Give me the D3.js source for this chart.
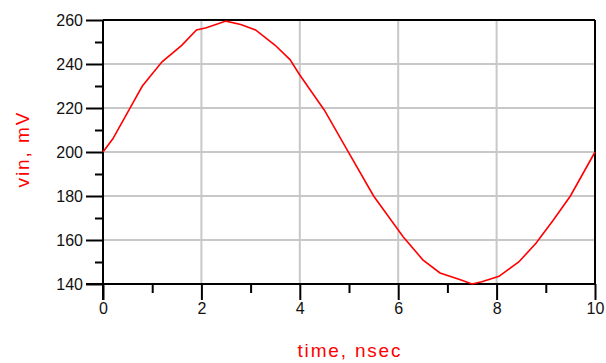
<!DOCTYPE html>
<html>
<head>
<meta charset="utf-8">
<script src="https://cdn.jsdelivr.net/npm/d3@7"></script>
<style>
body{margin:0;background:#fff;}
svg{display:block;}
</style>
</head>
<body>
<script>
// values
let timeNs=[0,0.2,0.6,0.8,1.2,1.6,1.9,2.1,2.5,2.8,3.1,3.5,3.8,4.0,4.5,5.0,5.5,6.1,6.5,6.85,7.25,7.5,7.7,8.05,8.45,8.8,9.15,9.5,10];
let vinMv=[200,206,222,230,241,248.5,255.5,256.5,259.5,258,255.5,248.5,242,235,219,199.5,180,161.5,151,145,142,140,141,143.5,150,158.5,169,180,200];
let xTicks=[0,2,4,6,8,10];
let xMinor=[1,3,5,7,9];
let yTicks=[140,160,180,200,220,240,260];
let yMinor=[150,170,190,210,230,250];

let W=606,H=363;
let m={left:103,right:11,top:20,bottom:79};
let x=d3.scaleLinear().domain([0,10]).range([m.left,W-m.right]);
let y=d3.scaleLinear().domain([140,260]).range([H-m.bottom,m.top]);

let svg=d3.select("body").append("svg").attr("width",W).attr("height",H);

// grid
svg.append("g").selectAll("line").data(xTicks.slice(1,-1)).enter().append("line")
    .attr("x1",d=>x(d)).attr("x2",d=>x(d)).attr("y1",y(260)).attr("y2",y(140))
    .attr("stroke","#c8c8c8").attr("stroke-width",2);
svg.append("g").selectAll("line").data(yTicks.slice(1,-1)).enter().append("line")
    .attr("x1",x(0)).attr("x2",x(10)).attr("y1",d=>y(d)).attr("y2",d=>y(d))
    .attr("stroke","#c8c8c8").attr("stroke-width",2);

// border top/right
svg.append("line").attr("x1",x(0)).attr("x2",x(10)).attr("y1",y(260)).attr("y2",y(260))
    .attr("stroke","#000").attr("stroke-width",2);
svg.append("line").attr("x1",x(10)).attr("x2",x(10)).attr("y1",y(260)).attr("y2",y(140))
    .attr("stroke","#000").attr("stroke-width",2);

// y axis
let ya=svg.append("g").attr("transform","translate("+x(0)+",0)")
    .call(d3.axisLeft(y).tickValues(yTicks).tickSize(17).tickPadding(3).tickFormat(d3.format("d")));
let yb=svg.append("g").attr("transform","translate("+x(0)+",0)")
    .call(d3.axisLeft(y).tickValues(yMinor).tickSize(8).tickFormat(""));
// x axis
let xa=svg.append("g").attr("transform","translate(0,"+y(140)+")")
    .call(d3.axisBottom(x).tickValues(xTicks).tickSize(16).tickPadding(3).tickFormat(d3.format("d")));
let xb=svg.append("g").attr("transform","translate(0,"+y(140)+")")
    .call(d3.axisBottom(x).tickValues(xMinor).tickSize(9).tickFormat(""));
[ya,yb,xa,xb].forEach(g=>{
    g.select(".domain").remove();
    g.selectAll("line").attr("stroke","#000").attr("stroke-width",2);
    g.selectAll("text").attr("font-family","Liberation Sans, Arial, sans-serif")
        .attr("font-size",16).attr("fill","#111");
});
// axis lines (extend past the origin like the reference)
svg.append("line").attr("x1",x(0)).attr("x2",x(0)).attr("y1",y(260)).attr("y2",y(140)+16)
    .attr("stroke","#000").attr("stroke-width",2);
svg.append("line").attr("x1",x(0)-17).attr("x2",x(10)).attr("y1",y(140)).attr("y2",y(140))
    .attr("stroke","#000").attr("stroke-width",2);

// curve
let pts=timeNs.map((t,i)=>[t,vinMv[i]]);
svg.append("path").datum(pts)
    .attr("fill","none").attr("stroke","#ff0000").attr("stroke-width",1.6)
    .attr("d",d3.line().x(d=>x(d[0])).y(d=>y(d[1])));

// axis titles
svg.append("text").attr("x",(x(0)+x(10))/2).attr("y",357)
    .attr("text-anchor","middle").attr("fill","#ff0000")
    .attr("font-family","Liberation Sans, Arial, sans-serif").attr("font-size",19)
    .attr("textLength",103).attr("lengthAdjust","spacing")
    .text("time, nsec");
svg.append("text").attr("transform","translate(29,150) rotate(-90)")
    .attr("text-anchor","middle").attr("fill","#ff0000")
    .attr("font-family","Liberation Sans, Arial, sans-serif").attr("font-size",19)
    .attr("textLength",75).attr("lengthAdjust","spacing")
    .text("vin, mV");
</script>
</body>
</html>
